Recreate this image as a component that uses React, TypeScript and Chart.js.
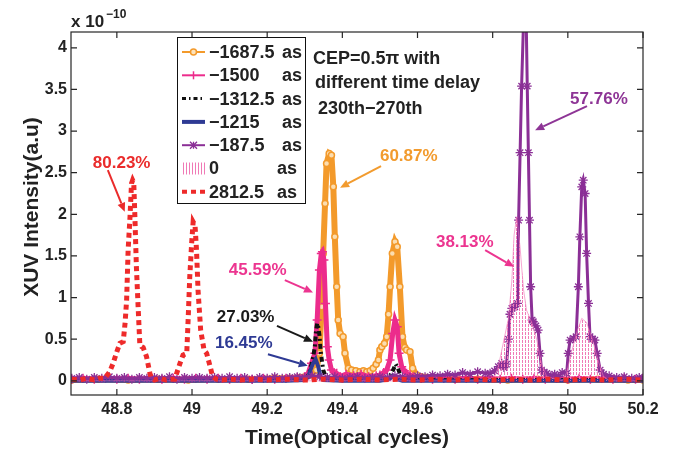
import React, { useEffect, useRef } from "react";
import { Chart, registerables } from "chart.js";

Chart.register(...registerables);

// ---------- axes ----------
const X_TICKS = [48.8, 49, 49.2, 49.4, 49.6, 49.8, 50, 50.2];
const Y_TICKS = [0, 0.5, 1, 1.5, 2, 2.5, 3, 3.5, 4];
const X_MIN = 48.678;
const X_MAX = 50.2;
const Y_MIN = -0.17;
const Y_MAX = 4.19;

// ---------- legend ----------
const DELAYS = ["\u22121687.5", "\u22121500", "\u22121312.5", "\u22121215", "\u2212187.5", "0", "2812.5"];
const UNIT = "as";

// ---------- series: -1687.5 as (orange, circles) ----------
const ORANGE_T = [
  48.68, 48.75, 48.83, 48.91, 48.99, 49.07, 49.15, 49.22, 49.26, 49.287,
  49.314, 49.331, 49.339, 49.345, 49.349, 49.354, 49.358, 49.365, 49.371, 49.376,
  49.38, 49.385, 49.389, 49.394, 49.402, 49.407, 49.416, 49.425, 49.436, 49.447,
  49.456, 49.465, 49.474, 49.482, 49.49, 49.496, 49.5, 49.505, 49.512, 49.518,
  49.523, 49.527, 49.533, 49.54, 49.546, 49.553, 49.56, 49.566, 49.571, 49.58,
  49.587, 49.598, 49.61, 49.624, 49.65, 49.7, 49.76, 49.84, 49.92, 50.0,
  50.08, 50.16, 50.2,
];
const ORANGE_V = [
  0.01, 0.02, 0.01, 0.02, 0.01, 0.02, 0.02, 0.03, 0.03, 0.04,
  0.07, 0.13, 0.33, 0.89, 1.53, 2.13, 2.61, 2.73, 2.71, 2.33,
  1.73, 1.13, 0.73, 0.57, 0.53, 0.33, 0.15, 0.13, 0.12, 0.11,
  0.12, 0.11, 0.12, 0.15, 0.2, 0.25, 0.37, 0.41, 0.45, 0.53,
  0.8, 1.13, 1.53, 1.67, 1.61, 1.13, 0.53, 0.4, 0.37, 0.35,
  0.15, 0.07, 0.05, 0.04, 0.03, 0.02, 0.02, 0.01, 0.02, 0.01,
  0.02, 0.01, 0.01,
];

// ---------- series: -1500 as (pink, plus) ----------
const PINK_T = [
  48.68, 48.71, 48.74, 48.77, 48.8, 48.83, 48.86, 48.89, 48.92, 48.95,
  48.98, 49.01, 49.04, 49.07, 49.1, 49.13, 49.16, 49.19, 49.22, 49.25,
  49.28,
  49.3, 49.309, 49.318, 49.327, 49.333, 49.339, 49.344, 49.347, 49.351, 49.355,
  49.36, 49.365, 49.371, 49.378, 49.385, 49.394,
  49.41, 49.43, 49.45, 49.47, 49.49,
  49.5, 49.51, 49.518, 49.527, 49.534, 49.54, 49.546, 49.551, 49.558, 49.565,
  49.571, 49.58, 49.589,
  49.61, 49.64, 49.67, 49.7, 49.73, 49.76, 49.79, 49.82, 49.85, 49.88,
  49.91, 49.94, 49.97, 50.0, 50.03, 50.06, 50.09, 50.12, 50.15, 50.18,
  50.2,
];
const PINK_V = [
  0.02, 0.03, 0.02, 0.03, 0.02, 0.03, 0.02, 0.03, 0.02, 0.03,
  0.02, 0.03, 0.02, 0.03, 0.02, 0.03, 0.02, 0.03, 0.02, 0.03,
  0.04,
  0.05, 0.09, 0.21, 0.33, 0.73, 1.33, 1.53, 1.55, 1.45, 0.93,
  0.41, 0.25, 0.13, 0.1, 0.09, 0.05,
  0.08, 0.06, 0.08, 0.05, 0.06,
  0.07, 0.1, 0.13, 0.25, 0.57, 0.73, 0.65, 0.33, 0.17, 0.12,
  0.09, 0.07, 0.05,
  0.03, 0.02, 0.03, 0.02, 0.03, 0.02, 0.03, 0.02, 0.03, 0.02,
  0.03, 0.02, 0.03, 0.02, 0.03, 0.02, 0.03, 0.02, 0.03, 0.02,
  0.03,
];

// ---------- series: -1312.5 as (black, dash-dot) ----------
const BLACK_T = [
  48.68, 48.8, 48.92, 49.04, 49.16, 49.26,
  49.305, 49.312, 49.318, 49.323, 49.327, 49.33, 49.333, 49.336, 49.339, 49.343, 49.349, 49.356,
  49.37, 49.42, 49.48, 49.52,
  49.53, 49.537, 49.542, 49.548, 49.555, 49.565,
  49.62, 49.74, 49.86, 49.98, 50.1, 50.2,
];
const BLACK_V = [
  0.01, 0.01, 0.01, 0.01, 0.01, 0.02,
  0.03, 0.1, 0.2, 0.3, 0.42, 0.6, 0.69, 0.65, 0.55, 0.33, 0.13, 0.05,
  0.03, 0.02, 0.02, 0.03,
  0.08, 0.15, 0.2, 0.15, 0.06, 0.02,
  0.01, 0.01, 0.01, 0.01, 0.01, 0.01,
];

// ---------- series: -1215 as (blue, solid) ----------
const BLUE_T = [
  48.68, 48.9, 49.1, 49.25, 49.3, 49.309, 49.316, 49.322, 49.329, 49.336,
  49.342, 49.35, 49.4, 49.5, 49.525, 49.535, 49.545, 49.56, 49.7, 49.9,
  50.05, 50.2,
];
const BLUE_V = [
  0, 0, 0, 0, 0.01, 0.05, 0.14, 0.21, 0.26, 0.17,
  0.05, 0.01, 0, 0, 0.02, 0.06, 0.02, 0, 0, 0,
  0, 0,
];

// ---------- series: -187.5 as (purple, asterisks) ----------
const PURPLE_T = [
  48.68, 48.7, 48.72, 48.74, 48.76, 48.78, 48.8, 48.82, 48.84, 48.86,
  48.88, 48.9, 48.92, 48.94, 48.96, 48.98, 49.0, 49.02, 49.04, 49.06,
  49.08, 49.1, 49.12, 49.14, 49.16, 49.18, 49.2, 49.22, 49.24, 49.26,
  49.28, 49.3, 49.32, 49.34, 49.36, 49.38, 49.4, 49.42, 49.44, 49.46,
  49.48, 49.5, 49.52, 49.54, 49.56, 49.58, 49.6, 49.62, 49.64, 49.66,
  49.68, 49.7, 49.72, 49.74, 49.76, 49.78,
  49.793, 49.805, 49.815, 49.824, 49.83, 49.837, 49.842, 49.846, 49.851, 49.859,
  49.866, 49.869, 49.873, 49.877, 49.882, 49.885, 49.889, 49.892, 49.895, 49.898,
  49.901, 49.905, 49.908, 49.915, 49.921, 49.926, 49.93, 49.937, 49.944, 49.955,
  49.965, 49.975, 49.985, 49.997, 50.001, 50.006, 50.015, 50.022, 50.028, 50.032,
  50.037, 50.041, 50.046, 50.05, 50.055, 50.059, 50.066, 50.072, 50.078, 50.086,
  50.095, 50.11, 50.13, 50.15, 50.17, 50.19, 50.2,
];
const PURPLE_V = [
  0.03, 0.04, 0.02, 0.04, 0.03, 0.05, 0.03, 0.04, 0.02, 0.04,
  0.03, 0.04, 0.03, 0.05, 0.02, 0.04, 0.03, 0.04, 0.03, 0.04,
  0.03, 0.05, 0.03, 0.04, 0.02, 0.04, 0.03, 0.05, 0.03, 0.04,
  0.05, 0.04, 0.06, 0.05, 0.04, 0.05, 0.03, 0.04, 0.05, 0.03,
  0.04, 0.05, 0.04, 0.06, 0.05, 0.04, 0.06, 0.05, 0.07, 0.06,
  0.08, 0.07, 0.1, 0.08, 0.11, 0.09,
  0.09, 0.12, 0.17, 0.21, 0.16, 0.2, 0.5, 0.8, 0.87, 0.89,
  0.93, 1.93, 2.74, 3.54, 4.3, 4.6, 4.4, 3.54, 2.74, 1.93,
  1.13, 0.73, 0.71, 0.66, 0.61, 0.33, 0.13, 0.1, 0.09, 0.06,
  0.08, 0.05, 0.1, 0.09, 0.33, 0.49, 0.51, 0.53, 1.13, 1.73,
  2.33, 2.41, 2.25, 1.53, 0.93, 0.53, 0.5, 0.49, 0.33, 0.13,
  0.08, 0.06, 0.04, 0.05, 0.03, 0.04, 0.03,
];

// ---------- series: 0 as (pink hatched area) ----------
const HATCH_T = [
  48.68, 49.78, 49.805, 49.815, 49.828, 49.842, 49.851, 49.857, 49.864, 49.873,
  49.882, 49.89, 49.904, 49.917, 49.93, 49.944, 49.985, 49.997, 50.01, 50.025,
  50.037, 50.05, 50.065, 50.08, 50.095, 50.11, 50.2,
];
const HATCH_V = [
  0, 0, 0.05, 0.17, 0.45, 0.75, 1.2, 1.75, 1.97, 1.6,
  1.1, 0.85, 0.7, 0.5, 0.2, 0.05, 0, 0.1, 0.35, 0.6,
  0.75, 0.7, 0.5, 0.25, 0.05, 0, 0,
];

// ---------- series: 2812.5 as (red, dotted) ----------
const RED_T = [
  48.68, 48.7, 48.72, 48.74, 48.755,
  48.768, 48.781, 48.79, 48.8, 48.808, 48.817, 48.822, 48.826, 48.83, 48.835,
  48.839, 48.842, 48.845, 48.848, 48.852, 48.857, 48.861, 48.866, 48.87, 48.879,
  48.888, 48.892, 48.9, 48.915, 48.93, 48.94, 48.954, 48.968, 48.976, 48.986,
  48.99, 48.994, 48.999, 49.003, 49.008, 49.012, 49.016, 49.023, 49.032, 49.039,
  49.046, 49.055, 49.065, 49.08, 49.1, 49.13, 49.16, 49.2, 49.25, 49.3,
  49.35, 49.4, 49.45, 49.5, 49.55, 49.6, 49.65, 49.7, 49.75, 49.8,
  49.85, 49.9, 49.95, 50.0, 50.05, 50.1, 50.15, 50.2,
];
const RED_V = [
  0.02, 0.01, 0.03, 0.01, 0.03,
  0.03, 0.11, 0.21, 0.35, 0.45, 0.47, 0.7, 0.97, 1.57, 1.97,
  2.37, 2.41, 2.38, 1.97, 1.37, 0.85, 0.45, 0.41, 0.4, 0.29,
  0.09, 0.03, 0.01, 0.03, 0.01, 0.02, 0.02, 0.21, 0.31, 0.33,
  0.77, 1.25, 1.65, 1.91, 1.87, 1.57, 1.09, 0.61, 0.37, 0.33,
  0.21, 0.05, 0.02, 0.01, 0.02, 0.01, 0.02, 0.01, 0.02, 0.01,
  0.02, 0.01, 0.02, 0.01, 0.02, 0.01, 0.02, 0.01, 0.02, 0.01,
  0.02, 0.01, 0.02, 0.01, 0.02, 0.01, 0.02, 0.01,
];

// ---------- annotations (data units) ----------
const ANNOTATIONS = [
  { text: "60.87%", color: "#F29B2E", tx: 49.5, ty: 2.64, from: [49.503, 2.58], to: [49.394, 2.32] },
  { text: "57.76%", color: "#8E3596", tx: 50.006, ty: 3.32, from: [50.051, 3.3], to: [49.913, 3.01] },
  { text: "38.13%", color: "#EC3590", tx: 49.649, ty: 1.61, from: [49.78, 1.57], to: [49.857, 1.37] },
  { text: "80.23%", color: "#EA2B2B", tx: 48.736, ty: 2.56, from: [48.776, 2.53], to: [48.821, 2.03] },
  { text: "45.59%", color: "#EC3590", tx: 49.098, ty: 1.27, from: [49.247, 1.21], to: [49.322, 1.06] },
  { text: "27.03%", color: "#1a1a1a", tx: 49.066, ty: 0.71, from: [49.226, 0.66], to: [49.322, 0.47] },
  { text: "16.45%", color: "#2E3A94", tx: 49.061, ty: 0.4, from: [49.202, 0.32], to: [49.308, 0.18] },
];

const FONT = '"Liberation Sans", Arial, Helvetica, sans-serif';
const C_ORANGE = "#F39A2B";
const C_PINK = "#EC2C8C";
const C_BLACK = "#111111";
const C_BLUE = "#2E3A94";
const C_PURPLE = "#8B2F96";
const C_HATCH = "#F07AB6";
const C_RED = "#EE2A2A";
const C_TEXT = "#222222";

function pts(t: number[], v: number[]) {
  return t.map((x, i) => ({ x, y: v[i] }));
}

function drawArrow(ctx: CanvasRenderingContext2D, x1: number, y1: number, x2: number, y2: number, color: string) {
  const a = Math.atan2(y2 - y1, x2 - x1);
  const hl = 9;
  const hw = 4;
  const bx = x2 - hl * Math.cos(a);
  const by = y2 - hl * Math.sin(a);
  ctx.save();
  ctx.strokeStyle = color;
  ctx.fillStyle = color;
  ctx.lineWidth = 2;
  ctx.beginPath();
  ctx.moveTo(x1, y1);
  ctx.lineTo(bx, by);
  ctx.stroke();
  ctx.beginPath();
  ctx.moveTo(x2, y2);
  ctx.lineTo(bx + hw * Math.sin(a), by - hw * Math.cos(a));
  ctx.lineTo(bx - hw * Math.sin(a), by + hw * Math.cos(a));
  ctx.closePath();
  ctx.fill();
  ctx.restore();
}

function legendSample(ctx: CanvasRenderingContext2D, idx: number, x0: number, x1: number, y: number) {
  const xm = (x0 + x1) / 2;
  ctx.save();
  ctx.setLineDash([]);
  if (idx === 0) {
    ctx.strokeStyle = C_ORANGE; ctx.lineWidth = 2;
    ctx.beginPath(); ctx.moveTo(x0, y); ctx.lineTo(x1, y); ctx.stroke();
    ctx.fillStyle = "#FCE3BC"; ctx.lineWidth = 1.5;
    ctx.beginPath(); ctx.arc(xm, y, 3, 0, Math.PI * 2); ctx.fill(); ctx.stroke();
  } else if (idx === 1) {
    ctx.strokeStyle = C_PINK; ctx.lineWidth = 2;
    ctx.beginPath(); ctx.moveTo(x0, y); ctx.lineTo(x1, y); ctx.stroke();
    ctx.lineWidth = 1.5;
    ctx.beginPath(); ctx.moveTo(xm, y - 4); ctx.lineTo(xm, y + 4); ctx.stroke();
  } else if (idx === 2) {
    ctx.strokeStyle = C_BLACK; ctx.lineWidth = 3;
    ctx.setLineDash([4, 3, 1.5, 3]);
    ctx.beginPath(); ctx.moveTo(x0, y); ctx.lineTo(x1, y); ctx.stroke();
  } else if (idx === 3) {
    ctx.strokeStyle = C_BLUE; ctx.lineWidth = 4;
    ctx.beginPath(); ctx.moveTo(x0, y); ctx.lineTo(x1, y); ctx.stroke();
  } else if (idx === 4) {
    ctx.strokeStyle = C_PURPLE; ctx.lineWidth = 2;
    ctx.beginPath(); ctx.moveTo(x0, y); ctx.lineTo(x1, y); ctx.stroke();
    ctx.lineWidth = 1.3;
    const r = 3.5;
    ctx.beginPath();
    ctx.moveTo(xm - r, y - r); ctx.lineTo(xm + r, y + r);
    ctx.moveTo(xm - r, y + r); ctx.lineTo(xm + r, y - r);
    ctx.moveTo(xm, y - r); ctx.lineTo(xm, y + r);
    ctx.stroke();
  } else if (idx === 5) {
    ctx.strokeStyle = C_HATCH; ctx.lineWidth = 1;
    ctx.beginPath();
    for (let x = x0 + 1; x <= x1 - 1; x += 3) {
      ctx.moveTo(Math.round(x) + 0.5, y - 6); ctx.lineTo(Math.round(x) + 0.5, y + 6);
    }
    ctx.stroke();
  } else {
    ctx.strokeStyle = C_RED; ctx.lineWidth = 4;
    ctx.setLineDash([5, 4]);
    ctx.beginPath(); ctx.moveTo(x0, y); ctx.lineTo(x1, y); ctx.stroke();
  }
  ctx.restore();
}

const overlayPlugin = {
  id: "overlay",
  afterDraw(chart: any) {
    const ctx: CanvasRenderingContext2D = chart.ctx;
    const a = chart.chartArea;
    const xs = chart.scales.x;
    const ys = chart.scales.y;
    ctx.save();

    // frame
    ctx.strokeStyle = "#262626";
    ctx.lineWidth = 1.2;
    ctx.setLineDash([]);
    ctx.strokeRect(a.left, a.top, a.right - a.left, a.bottom - a.top);
    ctx.beginPath();
    for (const v of X_TICKS) {
      const x = xs.getPixelForValue(v);
      ctx.moveTo(x, a.bottom); ctx.lineTo(x, a.bottom - 6);
      ctx.moveTo(x, a.top); ctx.lineTo(x, a.top + 6);
    }
    for (const v of Y_TICKS) {
      const y = ys.getPixelForValue(v);
      ctx.moveTo(a.left, y); ctx.lineTo(a.left + 6, y);
      ctx.moveTo(a.right, y); ctx.lineTo(a.right - 6, y);
    }
    ctx.stroke();

    // exponent
    ctx.fillStyle = C_TEXT;
    ctx.textAlign = "left";
    ctx.textBaseline = "alphabetic";
    ctx.font = `bold 17px ${FONT}`;
    ctx.fillText("x 10", a.left, 27);
    ctx.font = `bold 12px ${FONT}`;
    ctx.fillText("\u221210", a.left + 35, 18);

    // axis titles
    ctx.font = `bold 21px ${FONT}`;
    ctx.textAlign = "center";
    ctx.fillText("Time(Optical cycles)", 347, 444);
    ctx.save();
    ctx.translate(38, 207);
    ctx.rotate(-Math.PI / 2);
    ctx.fillText("XUV Intensity(a.u)", 0, 0);
    ctx.restore();

    // legend
    const lx = 177, ly = 37, lw = 128, lh = 166;
    ctx.fillStyle = "#ffffff";
    ctx.fillRect(lx, ly, lw, lh);
    ctx.strokeStyle = "#111";
    ctx.lineWidth = 1;
    ctx.strokeRect(lx + 0.5, ly + 0.5, lw, lh);
    ctx.font = `bold 18px ${FONT}`;
    ctx.textBaseline = "middle";
    DELAYS.forEach((d, i) => {
      const y = 52 + i * 23.3;
      legendSample(ctx, i, 182, 205, y);
      ctx.fillStyle = C_TEXT;
      ctx.textAlign = "left";
      ctx.fillText(d, 209, y + 1);
      ctx.textAlign = "right";
      ctx.fillText(UNIT, i >= 5 ? 297 : 302, y + 1);
    });

    // description
    ctx.textAlign = "left";
    ctx.textBaseline = "alphabetic";
    ctx.fillStyle = C_TEXT;
    ctx.font = `bold 18px ${FONT}`;
    ctx.fillText("CEP=0.5\u03c0 with", 313, 64);
    ctx.fillText("different time delay", 315, 88);
    ctx.fillText("230th\u2212270th", 318, 114);

    // annotations
    ctx.font = `bold 17px ${FONT}`;
    for (const an of ANNOTATIONS) {
      ctx.fillStyle = an.color;
      ctx.fillText(an.text, xs.getPixelForValue(an.tx), ys.getPixelForValue(an.ty));
      drawArrow(ctx,
        xs.getPixelForValue(an.from[0]), ys.getPixelForValue(an.from[1]),
        xs.getPixelForValue(an.to[0]), ys.getPixelForValue(an.to[1]), an.color);
    }
    ctx.restore();
  },
};

function makeHatch(): CanvasPattern | string {
  const c = document.createElement("canvas");
  c.width = 3;
  c.height = 4;
  const g = c.getContext("2d");
  if (!g) return C_HATCH;
  g.fillStyle = C_HATCH;
  g.fillRect(0, 0, 1, 3);
  return g.createPattern(c, "repeat") || C_HATCH;
}

export default function App() {
  const ref = useRef<HTMLCanvasElement | null>(null);

  useEffect(() => {
    if (!ref.current) return;
    const hatch = makeHatch();
    const common = { tension: 0, clip: 0, fill: false };
    const chart = new Chart(ref.current, {
      type: "line",
      data: {
        datasets: [
          {
            ...common, label: "-1687.5 as", data: pts(ORANGE_T, ORANGE_V), order: 7,
            borderColor: C_ORANGE, borderWidth: 6, pointStyle: "circle", pointRadius: 3,
            pointBorderWidth: 1.5, pointBorderColor: C_ORANGE, pointBackgroundColor: "#FBDDB0",
          },
          {
            ...common, label: "-1500 as", data: pts(PINK_T, PINK_V), order: 6,
            borderColor: C_PINK, borderWidth: 5, pointStyle: "cross", pointRadius: 4.5,
            pointBorderWidth: 1.5, pointBorderColor: C_PINK,
          },
          {
            ...common, label: "-1312.5 as", data: pts(BLACK_T, BLACK_V), order: 5,
            borderColor: C_BLACK, borderWidth: 4, borderDash: [5, 3, 2, 3], pointRadius: 0,
          },
          {
            ...common, label: "-1215 as", data: pts(BLUE_T, BLUE_V), order: 4,
            borderColor: C_BLUE, borderWidth: 4, pointRadius: 0,
          },
          {
            ...common, label: "-187.5 as", data: pts(PURPLE_T, PURPLE_V), order: 3,
            borderColor: C_PURPLE, borderWidth: 3, pointStyle: "star", pointRadius: 4.5,
            pointBorderWidth: 1.3, pointBorderColor: C_PURPLE,
          },
          {
            ...common, label: "0 as", data: pts(HATCH_T, HATCH_V), order: 2,
            fill: "origin", backgroundColor: hatch,
            borderColor: "rgba(240,110,180,0.6)", borderWidth: 1, pointRadius: 0,
          },
          {
            ...common, label: "2812.5 as", data: pts(RED_T, RED_V), order: 1,
            borderColor: C_RED, borderWidth: 5, borderDash: [5, 4], pointRadius: 0,
          },
        ] as any,
      },
      options: {
        animation: false,
        responsive: false,
        maintainAspectRatio: false,
        events: [],
        layout: { padding: { top: 32, right: 31, left: 0, bottom: 0 } },
        plugins: { legend: { display: false }, tooltip: { enabled: false } },
        scales: {
          x: {
            type: "linear", min: X_MIN, max: X_MAX,
            grid: { display: false, drawTicks: false },
            border: { display: false },
            afterFit: (s: any) => { s.height = 58; },
            afterBuildTicks: (s: any) => { s.ticks = X_TICKS.map((value) => ({ value })); },
            ticks: {
              padding: 5, color: C_TEXT, maxRotation: 0, autoSkip: false,
              font: { family: FONT, size: 16, weight: "bold" },
              callback: (v: any) => String(v),
            },
          },
          y: {
            type: "linear", min: Y_MIN, max: Y_MAX,
            grid: { display: false, drawTicks: false },
            border: { display: false },
            afterFit: (s: any) => { s.width = 71; },
            afterBuildTicks: (s: any) => { s.ticks = Y_TICKS.map((value) => ({ value })); },
            ticks: {
              padding: 4, color: C_TEXT, autoSkip: false,
              font: { family: FONT, size: 16, weight: "bold" },
              callback: (v: any) => String(v),
            },
          },
        },
      } as any,
      plugins: [overlayPlugin],
    });
    return () => chart.destroy();
  }, []);

  return (
    <div style={{ position: "fixed", left: 0, top: 0, width: 674, height: 453, background: "#fff" }}>
      <canvas ref={ref} width={674} height={453} style={{ display: "block" }} />
    </div>
  );
}
